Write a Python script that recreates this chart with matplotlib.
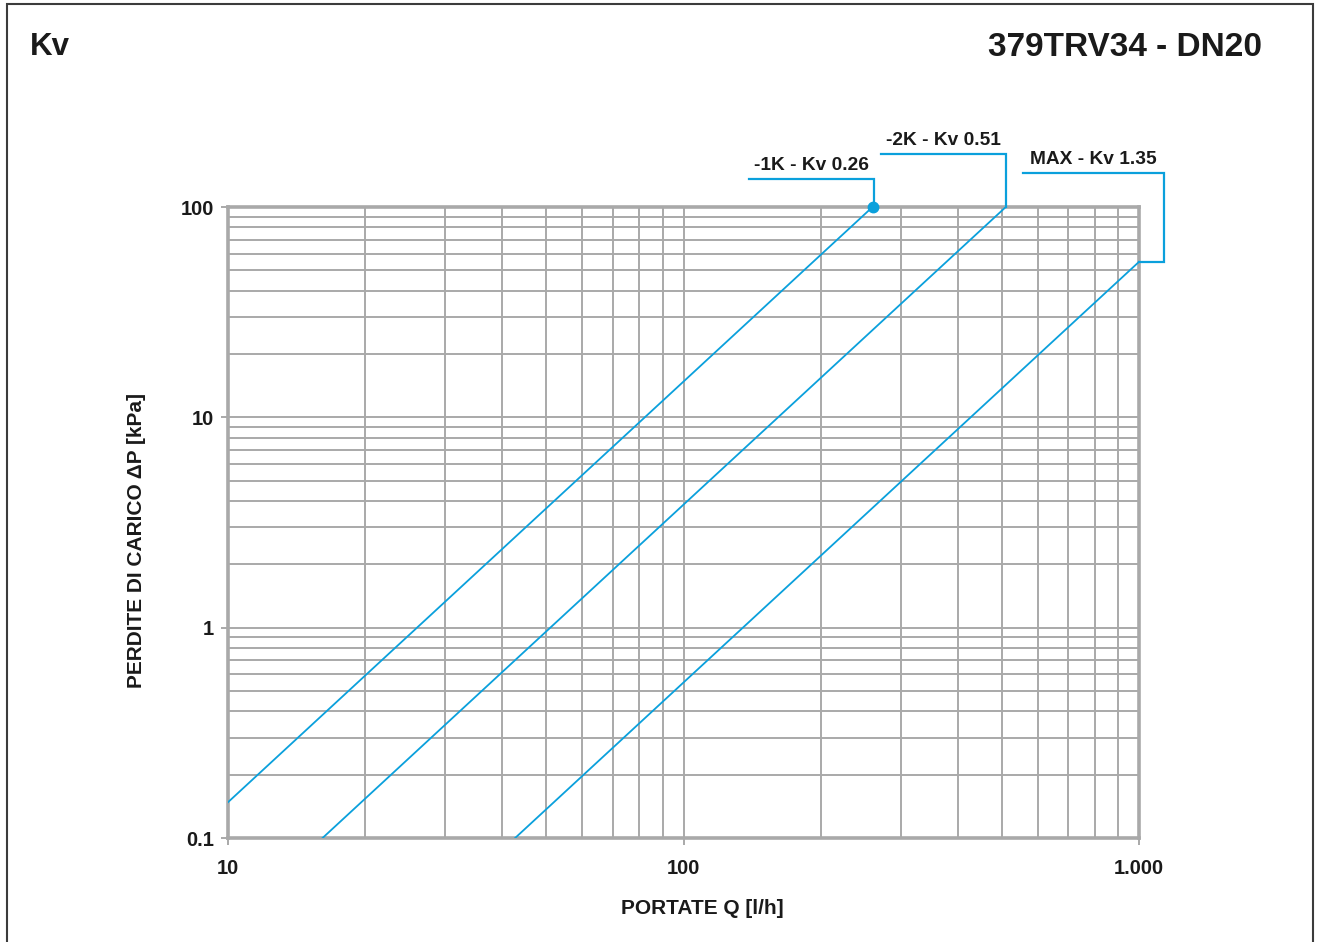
import numpy as np
import matplotlib
matplotlib.use("Agg")
import matplotlib.pyplot as plt
from matplotlib.lines import Line2D
from matplotlib.patches import Rectangle
from matplotlib.transforms import IdentityTransform
from matplotlib.ticker import FixedLocator, FixedFormatter, LogLocator, NullFormatter

plt.rcParams['font.family'] = ['Liberation Sans', 'DejaVu Sans']
plt.rcParams['font.weight'] = 'bold'

# Valve settings and their flow coefficients (Kv, m3/h at 1 bar)
kv_values = [0.26, 0.51, 1.35]
curve_labels = ["-1K - Kv 0.26", "-2K - Kv 0.51", "MAX - Kv 1.35"]

# Axis ticks
flow_ticks = [10, 100, 1000]
flow_tick_labels = ["10", "100", "1.000"]
dp_ticks = [0.1, 1, 10, 100]
dp_tick_labels = ["0.1", "1", "10", "100"]

BLUE = "#0aa0dc"
GRID = "#a9a9a9"
TEXT = "#1a1a1a"

W, H, DPI = 1319, 942, 100
fig = plt.figure(figsize=(W / DPI, H / DPI), dpi=DPI)
ax_w, ax_h = (1139 - 228), (838 - 207)
ax = fig.add_axes([228 / W, 1 - 838 / H, ax_w / W, ax_h / H])

ax.set_xscale("log")
ax.set_yscale("log")
ax.set_xlim(flow_ticks[0], flow_ticks[-1])
ax.set_ylim(dp_ticks[0], dp_ticks[-1])


def pressure_drop(q_lh, kv):
    """Pressure drop in kPa for a flow in l/h through a valve of given Kv."""
    return 100.0 * (q_lh / 1000.0 / kv) ** 2


q = np.geomspace(flow_ticks[0], flow_ticks[-1], 400)
for kv in kv_values:
    ax.plot(q, pressure_drop(q, kv), color=BLUE, lw=1.3, zorder=3)

# Grid
ax.xaxis.set_major_locator(FixedLocator(flow_ticks))
ax.xaxis.set_major_formatter(FixedFormatter(flow_tick_labels))
ax.yaxis.set_major_locator(FixedLocator(dp_ticks))
ax.yaxis.set_major_formatter(FixedFormatter(dp_tick_labels))
ax.xaxis.set_minor_locator(LogLocator(base=10, subs=np.arange(2, 10)))
ax.yaxis.set_minor_locator(LogLocator(base=10, subs=np.arange(2, 10)))
ax.xaxis.set_minor_formatter(NullFormatter())
ax.yaxis.set_minor_formatter(NullFormatter())
ax.grid(True, which="both", color=GRID, lw=1.4, zorder=1)
ax.set_axisbelow(True)

ax.tick_params(which="major", direction="out", length=5, width=1.4, color=GRID,
               labelsize=14.5, labelcolor=TEXT)
ax.tick_params(axis="x", pad=10)
ax.tick_params(axis="y", pad=5)
ax.tick_params(which="minor", length=0)
for lab in ax.get_xticklabels() + ax.get_yticklabels():
    lab.set_fontweight("bold")

for side in ("left", "right", "top", "bottom"):
    ax.spines[side].set_color(GRID)
    ax.spines[side].set_linewidth(2.6)

ax.set_xlabel("PORTATE Q [l/h]", fontsize=15, fontweight="bold", color=TEXT)
ax.set_ylabel("PERDITE DI CARICO ΔP [kPa]", fontsize=15, fontweight="bold", color=TEXT)
ax.xaxis.label.set_va("center")
ax.yaxis.label.set_va("center")
ax.xaxis.set_label_coords((702 - 228) / ax_w, -(908 - 838) / ax_h)
ax.yaxis.set_label_coords(-(228 - 137) / ax_w, (838 - 540) / ax_h)

# Header
fig.text(30 / W, 1 - 47 / H, "Kv", fontsize=22.5, fontweight="bold", color=TEXT,
         ha="left", va="center")
fig.text(1262 / W, 1 - 47 / H, "379TRV34 - DN20", fontsize=24, fontweight="bold",
         color=TEXT, ha="right", va="center")

# Leader lines from each curve end to its label (pixel offsets from the anchor)
anchors = [
    (kv_values[0] * 1000, 100.0),
    (kv_values[1] * 1000, 100.0),
    (1000.0, pressure_drop(1000.0, kv_values[2])),
]
leader_paths = [
    [(0, 0), (1, 0), (1, 28), (-124, 28)],
    [(0, 0), (0, 53), (-125, 53)],
    [(0, 0), (25, 0), (25, 89), (-116, 89)],
]

for i, ((qa, pa), path, label) in enumerate(zip(anchors, leader_paths, curve_labels)):
    ax0, ay0 = ax.transData.transform((qa, pa))
    xs = [ax0 + dx for dx, dy in path]
    ys = [ay0 + dy for dx, dy in path]
    fig.add_artist(Line2D(xs, ys, transform=IdentityTransform(), color=BLUE,
                          lw=1.6, solid_joinstyle="miter", zorder=5))
    if i == 0:
        fig.add_artist(Line2D([ax0], [ay0], transform=IdentityTransform(), marker="o",
                              ms=7.5, color=BLUE, mec=BLUE, zorder=6))
    tx = (xs[-1] + xs[-2]) / 2
    ty = ys[-1] + 5
    fig.text(tx / W, ty / H, label, fontsize=13.8, fontweight="bold", color=TEXT,
             ha="center", va="bottom")

# Frame around the sheet
fig.add_artist(Rectangle((7 / W, -0.02), (1313 - 7) / W, 1.02 - 4 / H,
                         transform=fig.transFigure, fill=False, ec="#3c3c3c", lw=1.5))

fig.savefig("out.png", dpi=DPI, facecolor="white")
